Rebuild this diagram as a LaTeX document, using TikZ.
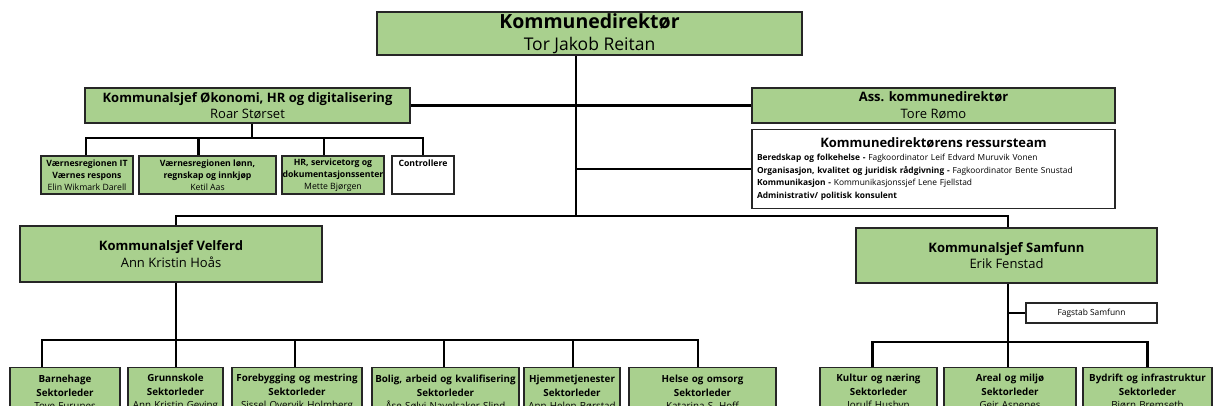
\documentclass[tikz,border=0pt]{standalone}
\usepackage{fontspec}
\setmainfont{Open Sans}
\usetikzlibrary{positioning}
\definecolor{unitgreen}{RGB}{169,208,142}
\tikzset{
  unit/.style = {draw = black!85, line width = 1.1pt, fill = unitgreen, align = center, inner sep = 0pt},
  staff/.style = {unit, fill = white},
  link/.style = {line width = 2.2pt},
  bigfont/.style = {font = \fontsize{18}{22}\selectfont},
  midfont/.style = {font = \fontsize{13}{16.5}\selectfont},
  smallfont/.style = {font = \fontsize{8.7}{12}\selectfont},
  sectorfont/.style = {font = \fontsize{9.8}{13.5}\selectfont},
  sector/.style = {unit, sectorfont, anchor = north, text width = #1, inner ysep = 0pt, minimum height = 50}
}

\begin{document}
\begin{tikzpicture}[x = 1pt, y = -1pt]
  \useasboundingbox (0,0) rectangle (1214,405);
  \clip (0,0) rectangle (1214,405);

  % top level
  \node [unit, bigfont, minimum width = 425, minimum height = 43] (kd) at (589.5,33.5)
    {{\fontsize{19.5}{22}\selectfont\bfseries Kommunedirektør}\\{\fontsize{17.5}{22}\selectfont Tor Jakob Reitan}};
  \node [unit, midfont, minimum width = 325, minimum height = 35] (oko) at (247.5,105.5)
    {\textbf{Kommunalsjef Økonomi, HR og digitalisering}\\Roar Størset};
  \node [unit, midfont, minimum width = 363, minimum height = 35] (ass) at (933.5,105.5)
    {\textbf{Ass. kommunedirektør}\\Tore Rømo};
  \node [staff, font = \fontsize{8.4}{12.5}\selectfont, align = left, text width = 353pt, inner xsep = 5pt,
         minimum height = 79, anchor = north] (ress) at (933.5,129)
    {\makebox[353pt]{\fontsize{13}{16}\selectfont\bfseries Kommunedirektørens ressursteam}\\[1pt]
     \textbf{Beredskap og folkehelse -} Fagkoordinator Leif Edvard Muruvik Vonen\\
     \textbf{Organisasjon, kvalitet og juridisk rådgivning -} Fagkoordinator Bente Snustad\\
     \textbf{Kommunikasjon -} Kommunikasjonssjef Lene Fjellstad\\
     \textbf{Administrativ/ politisk konsulent}};

  % okonomi units
  \node [unit, smallfont, minimum width = 92, minimum height = 38] (vit) at (87,175)
    {\textbf{Værnesregionen IT}\\\textbf{Værnes respons}\\Elin Wikmark Darell};
  \node [unit, smallfont, minimum width = 137, minimum height = 38] (vlonn) at (207.5,175)
    {\textbf{Værnesregionen lønn,}\\\textbf{regnskap og innkjøp}\\Ketil Aas};
  \node [unit, smallfont, minimum width = 102, minimum height = 38] (hr) at (333,175)
    {\textbf{HR, servicetorg og}\\\textbf{dokumentasjonssenter}\\Mette Bjørgen};
  \node [staff, smallfont, minimum width = 62, minimum height = 38] (ctrl) at (423,175)
    {\textbf{Controllere}\\~\\~};

  % kommunalsjefer
  \node [unit, midfont, minimum width = 302, minimum height = 56] (velf) at (171,254)
    {\textbf{Kommunalsjef Velferd}\\Ann Kristin Hoås};
  \node [unit, midfont, minimum width = 301, minimum height = 55] (samf) at (1006.5,255.5)
    {\textbf{Kommunalsjef Samfunn}\\Erik Fenstad};
  \node [staff, font = \fontsize{8.4}{9}\selectfont, minimum width = 131, minimum height = 20] (fag)
    at (1091.5,313) {Fagstab Samfunn};

  % sektorer
  \node [sector = 110pt] (barn)  at (65,367)
    {\textbf{Barnehage}\\\textbf{Sektorleder}\\Tove Furunes};
  \node [sector = 95pt]  (grunn) at (175.5,367)
    {\textbf{Grunnskole}\\\textbf{Sektorleder}\\Ann Kristin Geving};
  \node [sector = 130pt] (foreb) at (297,367)
    {\textbf{Forebygging og mestring}\\\textbf{Sektorleder}\\Sissel Overvik Holmberg};
  \node [sector = 147pt] (bolig) at (445.5,367)
    {\textbf{Bolig, arbeid og kvalifisering}\\\textbf{Sektorleder}\\Åse Sølvi Navelsaker Slind};
  \node [sector = 96pt]  (hjem)  at (572,367)
    {\textbf{Hjemmetjenester}\\\textbf{Sektorleder}\\Ann Helen Børstad};
  \node [sector = 147pt] (helse) at (702.5,367)
    {\textbf{Helse og omsorg}\\\textbf{Sektorleder}\\Katarina S. Hoff};
  \node [sector = 117pt] (kult)  at (878.5,367)
    {\textbf{Kultur og næring}\\\textbf{Sektorleder}\\Jorulf Husbyn};
  \node [sector = 132pt] (areal) at (1010,367)
    {\textbf{Areal og miljø}\\\textbf{Sektorleder}\\Geir Aspenes};
  \node [sector = 129pt] (bydr)  at (1147.5,367)
    {\textbf{Bydrift og infrastruktur}\\\textbf{Sektorleder}\\Bjørn Bremseth};

  % junctions
  \coordinate (mainbar) at (576,216);
  \coordinate (okobar) at (252,138);
  \coordinate (velfbar) at (176,340);
  \coordinate (samfbar) at (1008,342);

  % connectors
  \draw [link] (kd.south -| mainbar) -- (mainbar);
  \draw [link] (oko.east) -- (ass.west);
  \draw [link] (mainbar |- ress.west) -- (ress.west);
  \draw [link] ([xshift = 5]velf.north) |- (mainbar) -| ([xshift = 1.5]samf.north);

  \draw [link] (oko.south -| okobar) -- (okobar);
  \draw [link] ([xshift = -1]vit.north) |- (okobar) -| (ctrl.north);
  \draw [link] ([xshift = -9]vlonn.north) -- ([xshift = -9]vlonn.north |- okobar);
  \draw [link] ([xshift = -9]hr.north) -- ([xshift = -9]hr.north |- okobar);

  \draw [link] (velf.south -| velfbar) -- (velfbar |- grunn.north);
  \draw [link] ([xshift = -23]barn.north) |- (velfbar) -| ([xshift = -4.5]helse.north);
  \foreach \s/\dx in {foreb/-2, bolig/-1.5, hjem/1}
    \draw [link] ([xshift = \dx]\s.north) -- ([xshift = \dx]\s.north |- velfbar);

  \draw [link] (samf.south -| samfbar) -- (samfbar |- areal.north);
  \draw [link] (fag.west) -- (fag.west -| samfbar);
  \draw [link] ([xshift = -6]kult.north) |- (samfbar) -| (bydr.north);
\end{tikzpicture}
\end{document}
